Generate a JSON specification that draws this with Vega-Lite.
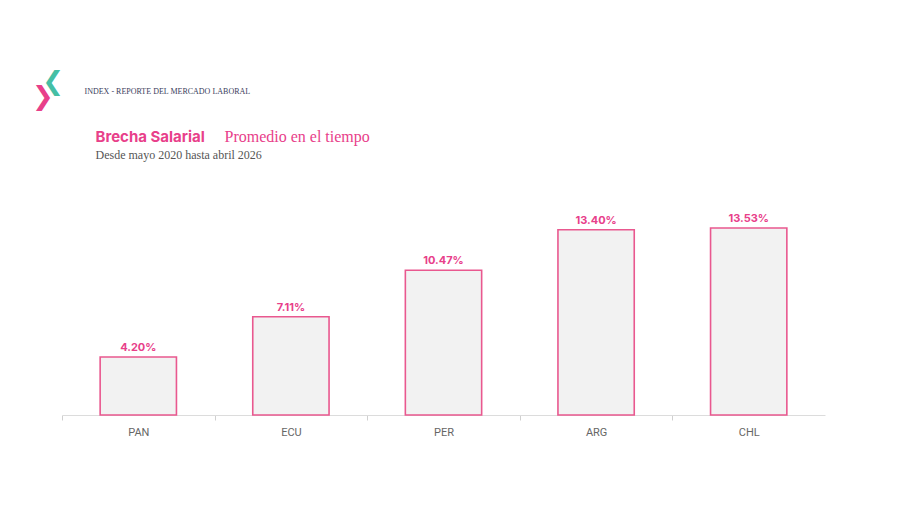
{
  "$schema": "https://vega.github.io/schema/vega-lite/v6.json",
  "width": 763,
  "height": 187,
  "autosize": "none",
  "padding": {"left": 62, "top": 228, "right": 75, "bottom": 90},
  "background": "white",
  "config": {"view": {"stroke": null}},
  "title": {
    "text": "\u2800\u276e",
    "subtitle": "\u276f",
    "anchor": "start", "align": "center", "frame": "group", "orient": "top",
    "font": "DejaVu Sans", "fontSize": 26, "fontWeight": "bold", "color": "#45bfa5",
    "subtitleFont": "DejaVu Sans", "subtitleFontSize": 26, "subtitleFontWeight": "bold", "subtitleColor": "#e8408a",
    "subtitlePadding": -11, "offset": 0, "dx": -19, "dy": 23
  },
  "data": {"values": [
    {"pais": "PAN", "brecha": 0.0420},
    {"pais": "ECU", "brecha": 0.0711},
    {"pais": "PER", "brecha": 0.1047},
    {"pais": "ARG", "brecha": 0.1340},
    {"pais": "CHL", "brecha": 0.1353}
  ]},
  "layer": [
    {
      "mark": {"type": "bar", "fill": "#f2f2f2", "stroke": "#e9588f", "strokeWidth": 1.6},
      "encoding": {
        "x": {
          "field": "pais", "type": "nominal", "sort": null,
          "scale": {"paddingInner": 0.5, "paddingOuter": 0.25},
          "axis": {
            "orient": "bottom", "labelAngle": 0, "tickOffset": -76.3, "labelOffset": 76.3,
            "domainColor": "#dcdcdc", "tickColor": "#d0d0d0", "tickSize": 5,
            "labelColor": "#666666", "labelFont": "Roboto", "labelFontSize": 11, "labelPadding": 6,
            "title": "Desde mayo 2020 hasta abril 2026",
            "titleFont": "Liberation Serif", "titleFontSize": 12, "titleFontWeight": "normal",
            "titleColor": "#555555", "titleAlign": "left", "titleAnchor": null,
            "titleBaseline": "alphabetic", "titleX": 33, "titleY": -257
          }
        },
        "y": {
          "field": "brecha", "type": "quantitative",
          "scale": {"domain": [0, 0.1353], "nice": false, "zero": true},
          "axis": {
            "orient": "left", "grid": false, "labels": false, "ticks": false, "domain": false,
            "title": "INDEX - REPORTE DEL MERCADO LABORAL",
            "titleFont": "Liberation Serif", "titleFontSize": 8, "titleFontWeight": "normal",
            "titleColor": "#3a3d5c", "titleAngle": 0, "titleAlign": "left",
            "titleBaseline": "alphabetic", "titleX": 22, "titleY": -135
          }
        }
      }
    },
    {
      "mark": {"type": "text", "baseline": "bottom", "dy": -4, "font": "Inter", "fontWeight": "bold", "fontSize": 11, "color": "#e8408a"},
      "encoding": {
        "x": {
          "field": "pais", "type": "nominal", "sort": null,
          "axis": {
            "orient": "top", "labels": false, "ticks": false, "domain": false, "grid": false,
            "title": "Brecha Salarial",
            "titleFont": "Inter", "titleFontSize": 15, "titleFontWeight": "bold",
            "titleColor": "#e8408a", "titleAlign": "left", "titleAnchor": null,
            "titleBaseline": "alphabetic", "titleX": 33, "titleY": -87
          }
        },
        "y": {
          "field": "brecha", "type": "quantitative",
          "axis": {
            "orient": "right", "grid": false, "labels": false, "ticks": false, "domain": false,
            "title": "Promedio en el tiempo",
            "titleFont": "Liberation Serif", "titleFontSize": 16, "titleFontWeight": "normal",
            "titleColor": "#e8408a", "titleAngle": 0, "titleAlign": "left",
            "titleBaseline": "alphabetic", "titleX": -601, "titleY": -87
          }
        },
        "text": {"field": "brecha", "type": "quantitative", "format": ".2%"}
      }
    }
  ],
  "resolve": {"axis": {"x": "independent", "y": "independent"}}
}
